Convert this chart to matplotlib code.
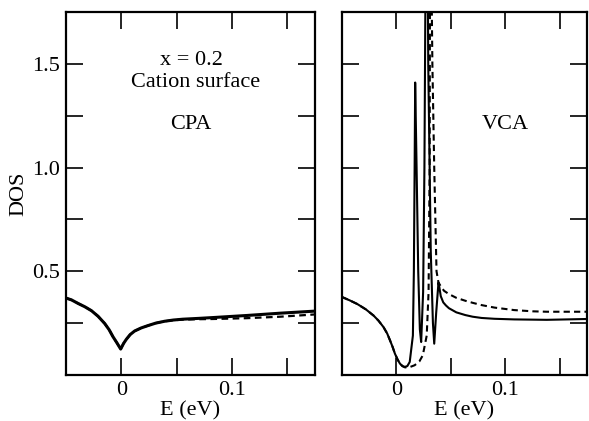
import matplotlib
matplotlib.use("Agg")
import matplotlib.pyplot as plt

plt.rcParams['font.family'] = ['Liberation Serif', 'DejaVu Serif']

# CPA panel (left)
cpa_x = [-0.05, -0.045, -0.0391, -0.033, -0.027, -0.021, -0.015, -0.011, -0.0076,
         -0.004, -0.0006, 0.002, 0.0045, 0.008, 0.012, 0.018, 0.024, 0.031, 0.039,
         0.047, 0.0555, 0.07, 0.083, 0.1135, 0.1435, 0.175]
cpa_solid = [0.371, 0.362, 0.345, 0.329, 0.31, 0.283, 0.248, 0.218, 0.185,
             0.155, 0.125, 0.152, 0.172, 0.195, 0.212, 0.227, 0.238, 0.25, 0.259,
             0.265, 0.269, 0.273, 0.277, 0.287, 0.298, 0.308]
cpa_dashed = [0.371, 0.362, 0.345, 0.329, 0.31, 0.283, 0.248, 0.218, 0.185,
              0.155, 0.125, 0.152, 0.172, 0.195, 0.212, 0.227, 0.238, 0.25, 0.259,
              0.264, 0.267, 0.269, 0.270, 0.274, 0.281, 0.292]

# VCA panel (right)
vca_solid_x = [-0.05, -0.043, -0.0359, -0.028, -0.0209, -0.0165, -0.0119, -0.0085,
               -0.0059, -0.0035, -0.0014, 0.001, 0.0032, 0.0055, 0.0077, 0.010,
               0.0122, 0.0151, 0.016, 0.0167, 0.0172, 0.0185, 0.02, 0.0215, 0.0227,
               0.0245, 0.0257, 0.0268, 0.028, 0.0292, 0.0315, 0.0335, 0.0347,
               0.0365, 0.0386, 0.0395, 0.0407, 0.043, 0.0455, 0.0482, 0.055, 0.0632,
               0.07, 0.0782, 0.09, 0.108, 0.138, 0.175]
vca_solid = [0.376, 0.36, 0.342, 0.316, 0.286, 0.262, 0.231, 0.2,
             0.167, 0.135, 0.103, 0.075, 0.055, 0.043, 0.039, 0.043,
             0.063, 0.19, 0.5, 1.0, 1.41, 1.0, 0.5, 0.22, 0.159,
             0.4, 1.0, 2.0, 2.6, 1.5, 0.6, 0.25, 0.151,
             0.3, 0.446, 0.42, 0.38, 0.35, 0.335, 0.322, 0.302, 0.289,
             0.281, 0.275, 0.271, 0.268, 0.266, 0.27]

vca_dashed_x = [-0.05, -0.043, -0.0359, -0.028, -0.0209, -0.0165, -0.0119, -0.0085,
                -0.0059, -0.0035, -0.0014, 0.001, 0.0032, 0.0055, 0.0077, 0.010,
                0.0122, 0.0167, 0.021, 0.0242, 0.0278, 0.0295, 0.0305, 0.031,
                0.033, 0.0347, 0.0368, 0.0386, 0.041, 0.0437, 0.0482, 0.055, 0.0632,
                0.07, 0.0782, 0.09, 0.108, 0.125, 0.138, 0.175]
vca_dashed = [0.376, 0.36, 0.342, 0.316, 0.286, 0.262, 0.231, 0.2,
              0.167, 0.135, 0.103, 0.075, 0.055, 0.043, 0.037, 0.036,
              0.038, 0.047, 0.065, 0.095, 0.19, 0.4, 1.0, 2.5,
              1.5, 1.0, 0.5, 0.446, 0.425, 0.406, 0.39, 0.372, 0.358,
              0.348, 0.337, 0.325, 0.313, 0.307, 0.305, 0.305]

fig = plt.figure(figsize=(5.89, 4.21), dpi=100)
ax1 = fig.add_axes([66/589, 46/421, 249/589, 363/421])
ax2 = fig.add_axes([342/589, 46/421, 245/589, 363/421])

ax1.plot(cpa_x, cpa_solid, color='black', lw=2.2)
ax1.plot(cpa_x, cpa_dashed, color='black', lw=1.6, ls=(0, (3, 2)))
ax2.plot(vca_solid_x, vca_solid, color='black', lw=1.5)
ax2.plot(vca_dashed_x, vca_dashed, color='black', lw=1.5, ls=(0, (3, 2)))

for ax in (ax1, ax2):
    ax.set_xlim(-0.05, 0.175)
    ax.set_ylim(0, 1.75)
    ax.set_xticks([0, 0.05, 0.1, 0.15])
    ax.set_xticklabels(['0', '', '0.1', ''])
    ax.set_yticks([0.25, 0.5, 0.75, 1.0, 1.25, 1.5])
    ax.tick_params(direction='in', length=12, width=1.2, top=True, right=True,
                   labelsize=16, pad=4)
    for s in ax.spines.values():
        s.set_linewidth(1.6)
    ax.set_xlabel('E (eV)', fontsize=16, labelpad=1)

ax1.set_yticklabels(['', '0.5', '', '1.0', '', '1.5'])
ax2.set_yticklabels([])
ax1.set_ylabel('DOS', fontsize=16, labelpad=3)

ax1.text(0.063, 1.515, 'x = 0.2', ha='center', va='center', fontsize=16)
ax1.text(0.067, 1.41, 'Cation surface', ha='center', va='center', fontsize=16)
ax1.text(0.0625, 1.21, 'CPA', ha='center', va='center', fontsize=16)
ax2.text(0.0996, 1.21, 'VCA', ha='center', va='center', fontsize=16)

fig.savefig('out.png', dpi=100)
